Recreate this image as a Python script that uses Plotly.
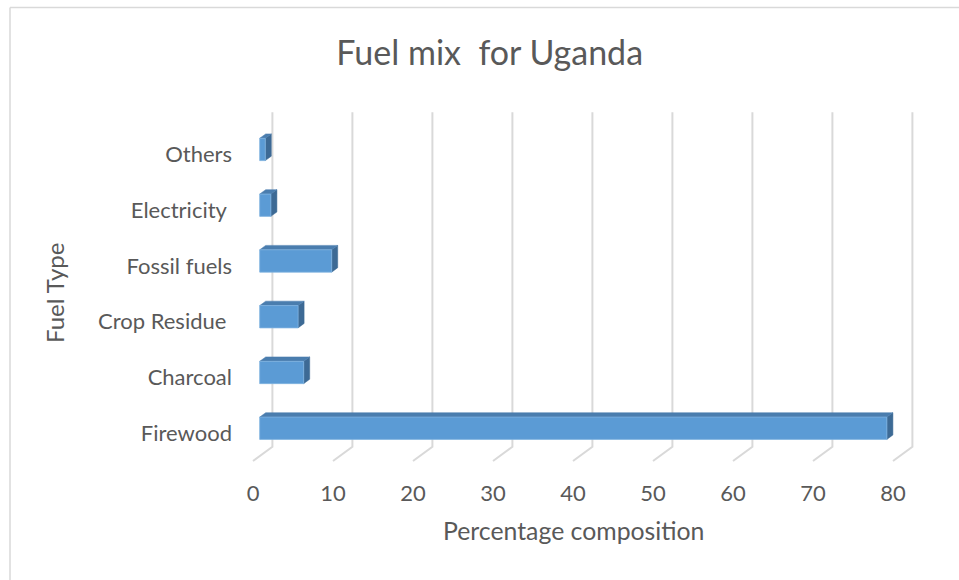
import plotly.graph_objects as go

# ---- data ----
categories = ["Firewood", "Charcoal", "Crop Residue ", "Fossil fuels", "Electricity ", "Others"]
values = [78.4, 5.5, 4.8, 9.0, 1.4, 0.7]
x_ticks = [0, 10, 20, 30, 40, 50, 60, 70, 80]
title_text = "Fuel mix  for Uganda"
x_title = "Percentage composition"
y_title = "Fuel Type"

# ---- page / layout geometry ----
W, H = 959, 580
PL, PT, PW, PH = 245, 107, 672, 368   # plot area in page pixels
ML, MT = PL, PT
MR, MB = W - ML - PW, H - MT - PH
XR = [-1, 83]
YR = [-0.75, 5.85]
px_x = PW / (XR[1] - XR[0])
px_y = PH / (YR[1] - YR[0])


def paper_x(px):
    return (px - PL) / PW


def paper_y(py):
    return (PT + PH - py) / PH


DX = 19.4 / px_x      # full depth shift in x units
DY = 14.3 / px_y      # full depth shift in y units
F0, F1 = 0.345, 0.655  # bar front/back depth
BH = 0.4               # bar thickness (category units)
n = len(categories)
floor_y = -0.5
top_y = n - 0.5

FRONT = "#5B9BD5"
TOP = "#4A7DAE"
SIDE = "#3D6A95"
GRID = "#D9D9D9"
TXT = "#595959"
FONT = "Lato"

fig = go.Figure()

# gridlines: floor diagonal + back wall vertical
gx, gy = [], []
for k in x_ticks:
    gx += [k, k + DX, k + DX, None]
    gy += [floor_y, floor_y + DY, top_y + DY, None]
fig.add_trace(go.Scatter(x=gx, y=gy, mode="lines", line=dict(color=GRID, width=2),
                         hoverinfo="skip", showlegend=False))

# bars (oblique 3D boxes)
for i, v in enumerate(values):
    x0f, x1f = F0 * DX, v + F0 * DX
    x0b, x1b = F1 * DX, v + F1 * DX
    yb_f, yt_f = i - BH / 2 + F0 * DY, i + BH / 2 + F0 * DY
    yb_b, yt_b = i - BH / 2 + F1 * DY, i + BH / 2 + F1 * DY
    fig.add_trace(go.Scatter(x=[x1f, x1f, x1b, x1b, x1f], y=[yb_f, yt_f, yt_b, yb_b, yb_f],
                             mode="lines", fill="toself", fillcolor=SIDE,
                             line=dict(color=SIDE, width=0.5), hoverinfo="skip", showlegend=False))
    fig.add_trace(go.Scatter(x=[x0f, x1f, x1b, x0b, x0f], y=[yt_f, yt_f, yt_b, yt_b, yt_f],
                             mode="lines", fill="toself", fillcolor=TOP,
                             line=dict(color=TOP, width=0.5), hoverinfo="skip", showlegend=False))
    fig.add_trace(go.Scatter(x=[x0f, x1f, x1f, x0f, x0f], y=[yb_f, yb_f, yt_f, yt_f, yb_f],
                             mode="lines", fill="toself", fillcolor=FRONT,
                             line=dict(color="#7FB2E0", width=0.8),
                             name=categories[i], text=[f"{categories[i]}: {v}"] * 5,
                             hoverinfo="text", showlegend=False))

fig.update_layout(
    width=W, height=H,
    margin=dict(l=ML, r=MR, t=MT, b=MB),
    paper_bgcolor="white", plot_bgcolor="white",
    font=dict(family=FONT, color=TXT),
    title=dict(text=title_text, font=dict(size=34, color=TXT, family=FONT),
               xref="container", x=489.7 / W, xanchor="center",
               yref="container", y=1 - 53 / H, yanchor="middle"),
    xaxis=dict(range=XR, showgrid=False, zeroline=False, showline=False, ticks="",
               tickvals=x_ticks, ticktext=[str(t) for t in x_ticks], automargin=False,
               tickfont=dict(size=22, color=TXT), ticklabelstandoff=3, fixedrange=True),
    yaxis=dict(range=YR, showgrid=False, zeroline=False, showline=False, ticks="",
               tickvals=list(range(n)), ticktext=categories, automargin=False,
               tickfont=dict(size=22, color=TXT), ticklabelstandoff=12, fixedrange=True),
    shapes=[
        dict(type="line", xref="paper", yref="paper",
             x0=paper_x(10), x1=paper_x(10), y0=paper_y(7.5), y1=paper_y(H),
             line=dict(color=GRID, width=1.5), layer="below"),
        dict(type="line", xref="paper", yref="paper",
             x0=paper_x(10), x1=paper_x(W), y0=paper_y(7.5), y1=paper_y(7.5),
             line=dict(color=GRID, width=1.5), layer="below"),
    ],
    annotations=[
        dict(text=x_title, xref="paper", yref="paper",
             x=paper_x(573), y=paper_y(530),
             xanchor="center", yanchor="middle", showarrow=False,
             font=dict(size=24.8, color=TXT, family=FONT)),
        dict(text=y_title, xref="paper", yref="paper",
             x=paper_x(54), y=paper_y(293),
             xanchor="center", yanchor="middle", showarrow=False, textangle=-90,
             font=dict(size=24, color=TXT, family=FONT)),
    ],
)

fig.write_html("out.html",
               config={"displayModeBar": False},
               post_script="document.body.style.margin='0';document.body.style.overflow='hidden';")
